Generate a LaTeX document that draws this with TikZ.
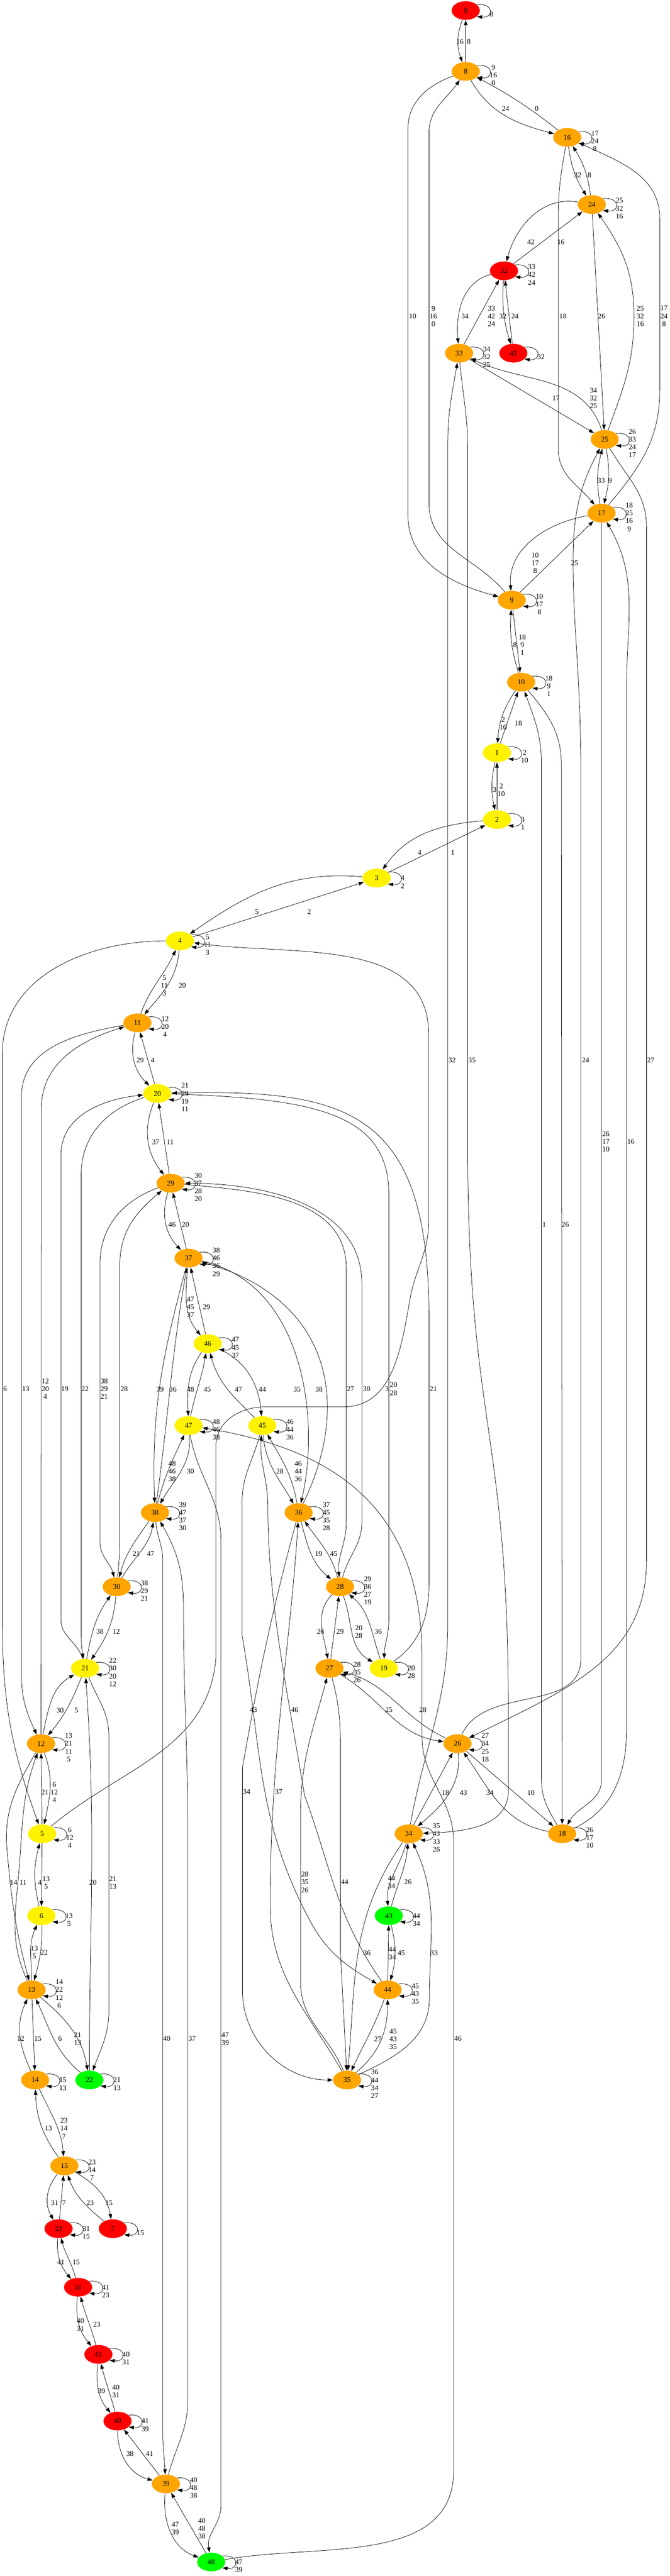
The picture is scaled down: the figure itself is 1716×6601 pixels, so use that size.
\documentclass[tikz,border=0pt]{standalone}
\usepackage{fontspec}
\setmainfont{Liberation Serif}
\usetikzlibrary{arrows.meta, shapes.geometric}
\definecolor{gvorange}{HTML}{FFA500}

% self loop on the right of a state, with its label
\newcommand{\sloop}[2]{%
  \draw[->] (#1.28) .. controls +(44,5) and +(44,-5) .. (#1.-28)
    node[lbl, anchor=west] at ([shift={(61,-10)}]#1.center) {#2};}

\begin{document}
\begin{tikzpicture}[
            x = 0.75pt, y = 0.75pt, % one unit is one pixel of the layout
            > = {Triangle[length=10pt, width=7pt]}, % arrow head style
            line width = 0.75pt % line style
        ]

        \tikzstyle{st}=[
            ellipse,
            minimum width = 54pt,
            minimum height = 36pt,
            inner sep = 0pt,
            font = \fontsize{14}{15}\selectfont
        ]
        \tikzstyle{redst}=[st, fill = red]
        \tikzstyle{orst}=[st, fill = gvorange]
        \tikzstyle{yelst}=[st, fill = yellow]
        \tikzstyle{grnst}=[st, fill = green]
        \tikzstyle{lbl}=[inner sep = 0pt, align = center, font = \fontsize{14}{15}\selectfont]

        \useasboundingbox (0,0) rectangle (1716,-6601);

        \node[redst] (s0) at (1193,-27) {0};
        \node[orst] (s8) at (1193,-183) {8};
        \node[orst] (s16) at (1453,-352) {16};
        \node[orst] (s24) at (1516,-524) {24};
        \node[redst] (s32) at (1291,-694) {32};
        \node[orst] (s33) at (1176,-905) {33};
        \node[redst] (s42) at (1315,-905) {42};
        \node[orst] (s25) at (1549,-1126) {25};
        \node[orst] (s17) at (1541,-1315) {17};
        \node[orst] (s9) at (1311,-1538) {9};
        \node[orst] (s10) at (1335,-1748) {10};
        \node[yelst] (s1) at (1273,-1929) {1};
        \node[yelst] (s2) at (1273,-2100) {2};
        \node[yelst] (s3) at (965,-2250) {3};
        \node[yelst] (s4) at (461,-2411) {4};
        \node[orst] (s11) at (352,-2621) {11};
        \node[yelst] (s20) at (403,-2802) {20};
        \node[orst] (s29) at (437,-3032) {29};
        \node[orst] (s37) at (483,-3224) {37};
        \node[yelst] (s46) at (532,-3443) {46};
        \node[yelst] (s47) at (483,-3653) {47};
        \node[yelst] (s45) at (672,-3653) {45};
        \node[orst] (s38) at (397,-3876) {38};
        \node[orst] (s36) at (765,-3876) {36};
        \node[orst] (s30) at (299,-4066) {30};
        \node[orst] (s28) at (871,-4066) {28};
        \node[yelst] (s21) at (218,-4275) {21};
        \node[orst] (s27) at (844,-4275) {27};
        \node[yelst] (s19) at (983,-4275) {19};
        \node[orst] (s12) at (105,-4468) {12};
        \node[orst] (s26) at (1172,-4468) {26};
        \node[yelst] (s5) at (108,-4699) {5};
        \node[orst] (s34) at (1047,-4699) {34};
        \node[orst] (s18) at (1440,-4699) {18};
        \node[yelst] (s6) at (106,-4909) {6};
        \node[grnst] (s43) at (996,-4909) {43};
        \node[orst] (s13) at (81,-5099) {13};
        \node[orst] (s44) at (993,-5099) {44};
        \node[orst] (s14) at (90,-5330) {14};
        \node[grnst] (s22) at (229,-5330) {22};
        \node[orst] (s35) at (889,-5330) {35};
        \node[orst] (s15) at (165,-5550) {15};
        \node[redst] (s23) at (150,-5711) {23};
        \node[redst] (s7) at (289,-5711) {7};
        \node[redst] (s31) at (200,-5861) {31};
        \node[redst] (s41) at (252,-6033) {41};
        \node[redst] (s40) at (301,-6204) {40};
        \node[orst] (s39) at (425,-6365) {39};
        \node[grnst] (s48) at (541,-6565) {48};

        \sloop{s0}{8}
        \sloop{s8}{9\\16\\0}
        \sloop{s16}{17\\24\\8}
        \sloop{s24}{25\\32\\16}
        \sloop{s32}{33\\42\\24}
        \sloop{s42}{32}
        \sloop{s33}{34\\32\\25}
        \sloop{s25}{26\\33\\24\\17}
        \sloop{s17}{18\\25\\16\\9}
        \sloop{s9}{10\\17\\8}
        \sloop{s10}{18\\9\\1}
        \sloop{s1}{2\\10}
        \sloop{s2}{3\\1}
        \sloop{s3}{4\\2}
        \sloop{s4}{5\\11\\3}
        \sloop{s11}{12\\20\\4}
        \sloop{s20}{21\\29\\19\\11}
        \sloop{s29}{30\\37\\28\\20}
        \sloop{s37}{38\\46\\36\\29}
        \sloop{s46}{47\\45\\37}
        \sloop{s47}{48\\46\\38}
        \sloop{s45}{46\\44\\36}
        \sloop{s38}{39\\47\\37\\30}
        \sloop{s36}{37\\45\\35\\28}
        \sloop{s30}{38\\29\\21}
        \sloop{s28}{29\\36\\27\\19}
        \sloop{s21}{22\\30\\20\\12}
        \sloop{s27}{28\\35\\26}
        \sloop{s19}{20\\28}
        \sloop{s12}{13\\21\\11\\5}
        \sloop{s26}{27\\34\\25\\18}
        \sloop{s5}{6\\12\\4}
        \sloop{s34}{35\\43\\33\\26}
        \sloop{s18}{26\\17\\10}
        \sloop{s6}{13\\5}
        \sloop{s43}{44\\34}
        \sloop{s13}{14\\22\\12\\6}
        \sloop{s44}{45\\43\\35}
        \sloop{s14}{15\\13}
        \sloop{s22}{21\\13}
        \sloop{s35}{36\\44\\34\\27}
        \sloop{s15}{23\\14\\7}
        \sloop{s23}{31\\15}
        \sloop{s7}{15}
        \sloop{s31}{41\\23}
        \sloop{s41}{40\\31}
        \sloop{s40}{41\\39}
        \sloop{s39}{40\\48\\38}
        \sloop{s48}{47\\39}

        % top part
        \draw[->] (s0) to[bend right=20] (s8) node[lbl] at (1178,-107) {16};
        \draw[->] (s8) -- (s0) node[lbl] at (1201,-107) {8};
        \draw[->] (s8) to[out=-60,in=165] (s16) node[lbl] at (1295,-278) {24};
        \draw[->] (s16) to[bend right=5] (s8) node[lbl] at (1375,-279) {0};
        \draw[->] (s16) to[bend right=12] (s24) node[lbl] at (1480,-449) {32};
        \draw[->] (s24) to[bend right=12] (s16) node[lbl] at (1510,-449) {8};
        \draw[->] (s24) to[out=170,in=75] (s32) node[lbl] at (1360,-620) {42};
        \draw[->] (s32) -- (s24) node[lbl] at (1437,-620) {16};
        \draw[->] (s32) to[out=195,in=95] (s33) node[lbl] at (1191,-810) {34};
        \draw[->] (s33) -- (s32) node[lbl] at (1259,-810) {33\\42\\24};
        \draw[->] (s32) to[bend right=10] (s42) node[lbl] at (1288,-810) {32};
        \draw[->] (s42) -- (s32) node[lbl] at (1319,-810) {24};
        \draw[->] (s33) -- (s25) node[lbl] at (1424,-1020) {17};
        \draw[->] (s25) to[out=108,in=-25] (s33) node[lbl] at (1520,-1020) {34\\32\\25};
        \draw[->] (s24) -- (s25) node[lbl] at (1541,-810) {26};
        \draw[->] (s25) to[out=70,in=-90] (1624,-810) to[out=90,in=-55] (s24) node[lbl] at (1640,-810) {25\\32\\16};
        \draw[->] (s16) to[out=-100,in=90] (1430,-560) -- (1430,-1150) to[out=-90,in=130] (s17) node[lbl] at (1442,-810) {18};
        \draw[->] (s17) to[out=50,in=-90] (1690,-1000) -- (1690,-560) to[out=90,in=-25] (s16) node[lbl] at (1701,-810) {17\\24\\8};
        \draw[->] (s25) to[bend left=12] (s17) node[lbl] at (1563,-1231) {9};
        \draw[->] (s17) to[bend left=12] (s25) node[lbl] at (1540,-1231) {33};
        \draw[->] (s17) to[out=190,in=95] (s9) node[lbl] at (1371,-1443) {10\\17\\8};
        \draw[->] (s9) -- (s17) node[lbl] at (1472,-1443) {25};
        \draw[->] (s8) to[out=200,in=90] (1045,-330) -- (1045,-1320) to[out=-90,in=165] (s9) node[lbl] at (1057,-810) {10};
        \draw[->] (s9) to[out=130,in=-90] (1099,-1290) -- (1099,-340) to[out=90,in=-125] (s8) node[lbl] at (1110,-810) {9\\16\\0};
        \draw[->] (s9) -- (s10) node[lbl] at (1338,-1653) {18\\9\\1};
        \draw[->] (s10) to[bend left=10] (s9) node[lbl] at (1319,-1653) {8};
        \draw[->] (s10) to[bend right=15] (s1) node[lbl] at (1289,-1854) {2\\10};
        \draw[->] (s1) -- (s10) node[lbl] at (1328,-1854) {18};
        \draw[->] (s1) to[bend right=12] (s2) node[lbl] at (1267,-2024) {3};
        \draw[->] (s2) -- (s1) node[lbl] at (1284,-2024) {2\\10};
        \draw[->] (s2) to[out=185,in=55] (s3) node[lbl] at (1075,-2185) {4};
        \draw[->] (s3) -- (s2) node[lbl] at (1160,-2185) {1};
        \draw[->] (s3) to[out=175,in=35] (s4) node[lbl] at (658,-2336) {5};
        \draw[->] (s4) -- (s3) node[lbl] at (792,-2336) {2};
        \draw[->] (s4) to[out=-95,in=50] (s11) node[lbl] at (467,-2525) {20};
        \draw[->] (s11) to[out=70,in=-115] (s4) node[lbl] at (421,-2525) {5\\11\\3};
        \draw[->] (s11) to[bend right=30] (s20) node[lbl] at (359,-2717) {29};
        \draw[->] (s20) -- (s11) node[lbl] at (391,-2717) {4};
        \draw[->] (s20) to[bend right=30] (s29) node[lbl] at (399,-2927) {37};
        \draw[->] (s29) -- (s20) node[lbl] at (436,-2927) {11};
        \draw[->] (s29) to[bend right=30] (s37) node[lbl] at (441,-3138) {46};
        \draw[->] (s37) -- (s29) node[lbl] at (475,-3138) {20};

        % middle part
        \draw[->] (s37) to[out=-105,in=92] (s38) node[lbl] at (410,-3560) {39};
        \draw[->] (s38) to[out=82,in=-100] (s37) node[lbl] at (443,-3560) {36};
        \draw[->] (s37) to[out=-95,in=130] (s46) node[lbl] at (488,-3349) {47\\45\\37};
        \draw[->] (s46) -- (s37) node[lbl] at (529,-3349) {29};
        \draw[->] (s37) .. controls (780,-3290) and (820,-3640) .. (s36) node[lbl] at (761,-3560) {35};
        \draw[->] (s36) .. controls (900,-3600) and (850,-3330) .. (s37) node[lbl] at (817,-3560) {38};
        \draw[->] (s46) to[out=-125,in=92] (s47) node[lbl] at (488,-3560) {48};
        \draw[->] (s47) to[out=78,in=-100] (s46) node[lbl] at (531,-3560) {45};
        \draw[->] (s46) to[out=-25,in=95] (s45) node[lbl] at (672,-3560) {44};
        \draw[->] (s45) to[out=135,in=-75] (s46) node[lbl] at (611,-3560) {47};
        \draw[->] (s47) to[out=-85,in=60] (s38) node[lbl] at (488,-3770) {30};
        \draw[->] (s38) to[out=75,in=-115] (s47) node[lbl] at (441,-3770) {48\\46\\38};
        \draw[->] (s45) to[out=-85,in=120] (s36) node[lbl] at (717,-3770) {28};
        \draw[->] (s36) to[out=100,in=-60] (s45) node[lbl] at (764,-3770) {46\\44\\36};
        \draw[->] (s38) to[out=-125,in=75] (s30) node[lbl] at (349,-3981) {21};
        \draw[->] (s30) to[out=60,in=-100] (s38) node[lbl] at (386,-3981) {47};
        \draw[->] (s36) to[out=-75,in=140] (s28) node[lbl] at (816,-3981) {19};
        \draw[->] (s28) to[out=105,in=-55] (s36) node[lbl] at (855,-3981) {45};
        \draw[->] (s30) to[out=-95,in=55] (s21) node[lbl] at (298,-4181) {12};
        \draw[->] (s21) to[out=80,in=-125] (s30) node[lbl] at (256,-4181) {38};
        \draw[->] (s28) to[out=-135,in=100] (s27) node[lbl] at (821,-4181) {26};
        \draw[->] (s27) -- (s28) node[lbl] at (871,-4181) {29};
        \draw[->] (s28) to[out=-70,in=150] (s19) node[lbl] at (919,-4181) {20\\28};
        \draw[->] (s19) to[out=110,in=-40] (s28) node[lbl] at (969,-4181) {36};
        \draw[->] (s27) to[out=-30,in=172] (s26) node[lbl] at (996,-4381) {25};
        \draw[->] (s26) to[out=155,in=-15] (s27) node[lbl] at (1083,-4381) {28};
        \draw[->] (s20) .. controls (800,-2815) and (996,-2850) .. (996,-3060) -- (996,-4150) to[out=-90,in=88] (s19) node[lbl] at (1008,-3559) {20\\28};
        \draw[->] (s19) to[out=35,in=-90] (1099,-4050) -- (1099,-3380) .. controls (1099,-2850) and (900,-2790) .. (s20) node[lbl] at (1110,-3559) {21};
        \draw[->] (s5) to[out=40,in=-95] (553,-4250) -- (553,-3700) to[out=85,in=180] (680,-3605) -- (880,-3605) to[out=0,in=-100] (1050,-3330) to[out=80,in=-90] (1098,-3130) -- (1098,-2650) to[out=90,in=-8] (s4) node[lbl] at (991,-3559) {3};
        \draw[->] (s4) to[out=180,in=90] (6,-2700) -- (6,-4150) to[out=-90,in=110] (s5) node[lbl] at (13,-3559) {6};

        % long channels on the left
        \draw[->] (s11) to[out=190,in=90] (55,-2810) -- (55,-4290) to[out=-90,in=115] (s12) node[lbl] at (66,-3559) {13};
        \draw[->] (s12) -- (106,-2840) to[out=90,in=197] (s11) node[lbl] at (116,-3559) {12\\20\\4};
        \draw[->] (s21) to[out=105,in=-90] (156,-4150) -- (156,-2960) to[out=90,in=186] (s20) node[lbl] at (166,-3559) {19};
        \draw[->] (s20) to[out=197,in=90] (208,-3010) -- (208,-4180) to[out=-90,in=100] (s21) node[lbl] at (218,-3559) {22};
        \draw[->] (s29) to[out=200,in=90] (256,-3240) -- (256,-3950) to[out=-90,in=105] (s30) node[lbl] at (267,-3559) {38\\29\\21};
        \draw[->] (s30) to[out=85,in=-90] (307,-3950) -- (307,-3240) to[out=90,in=-140] (s29) node[lbl] at (318,-3559) {28};
        \draw[->] (s29) to[out=-5,in=90] (887,-3250) -- (887,-3900) to[out=-90,in=95] (s28) node[lbl] at (898,-3559) {27};
        \draw[->] (s28) to[out=75,in=-90] (927,-3900) -- (927,-3290) to[out=90,in=0] (s29) node[lbl] at (939,-3559) {30};

        % long channels to the bottom
        \draw[->] (s47) to[out=-80,in=90] (566,-3950) -- (566,-6420) to[out=-90,in=100] (s48) node[lbl] at (577,-5224) {47\\39};
        \draw[->] (s48) to[out=10,in=-90] (1162,-6330) -- (1162,-4720) to[out=90,in=-90] (1081,-4450) -- (1081,-4250) .. controls (1081,-3900) and (900,-3720) .. (s47) node[lbl] at (1173,-5224) {46};
        \draw[->] (s38) to[out=-85,in=90] (417,-4000) -- (417,-6250) -- (s39) node[lbl] at (427,-5224) {40};
        \draw[->] (s39) to[out=75,in=-90] (481,-6150) -- (481,-4700) to[out=90,in=-90] (470,-4120) to[out=90,in=-60] (s38) node[lbl] at (492,-5224) {37};
        \draw[->] (s45) to[out=-105,in=90] (620,-3850) -- (620,-4190) to[out=-80,in=118] (793,-4920) to[out=-62,in=150] (s44) node[lbl] at (649,-4381) {43};
        \draw[->] (s36) to[out=-105,in=80] (621,-4530) -- (621,-5100) to[out=-90,in=180] (s35) node[lbl] at (632,-4592) {34};
        \draw[->] (s35) to[out=120,in=-90] (692,-4880) .. controls (692,-4500) and (745,-4200) .. (s36) node[lbl] at (714,-4592) {37};
        \draw[->] (s35) to[out=112,in=-90] (770,-5080) -- (770,-4650) to[out=90,in=-105] (s27) node[lbl] at (781,-4823) {28\\35\\26};
        \draw[->] (s27) to[out=-75,in=90] (872,-4480) -- (872,-5000) -- (s35) node[lbl] at (883,-4823) {44};
        \draw[->] (s44) to[out=125,in=-70] (780,-4600) .. controls (730,-4300) and (686,-4100) .. (686,-3850) to[out=92,in=-95] (s45) node[lbl] at (755,-4381) {46};
        \draw[->] (s34) to[out=-125,in=85] (s35) node[lbl] at (940,-5005) {36};
        \draw[->] (s34) to[out=-105,in=95] (s43) node[lbl] at (1003,-4823) {44\\34};
        \draw[->] (s43) to[out=75,in=-95] (s34) node[lbl] at (1045,-4823) {26};
        \draw[->] (s35) to[out=25,in=-90] (1100,-5120) to[out=90,in=-65] (s34) node[lbl] at (1112,-5005) {33};
        \draw[->] (s44) to[out=-110,in=65] (s35) node[lbl] at (968,-5225) {27};
        \draw[->] (s35) to[out=40,in=-90] (s44) node[lbl] at (1007,-5225) {45\\43\\35};
        \draw[->] (s43) to[bend left=15] (s44) node[lbl] at (1028,-5005) {45};
        \draw[->] (s44) -- (s43) node[lbl] at (1005,-5005) {44\\34};
        \draw[->] (s34) -- (s26) node[lbl] at (1141,-4594) {18};
        \draw[->] (s26) to[out=-85,in=40] (s34) node[lbl] at (1187,-4594) {43};
        \draw[->] (s26) -- (s18) node[lbl] at (1360,-4594) {10};
        \draw[->] (s18) to[out=170,in=-55] (s26) node[lbl] at (1255,-4594) {34};

        % long channels on the right
        \draw[->] (s33) to[out=-85,in=90] (1198,-1150) -- (1198,-2930) .. controls (1198,-3650) and (1302,-3660) .. (1302,-4380) -- (1302,-4590) to[out=-90,in=2] (s34) node[lbl] at (1209,-2717) {35};
        \draw[->] (s34) to[out=80,in=-90] (1147,-4160) -- (1147,-1140) to[out=90,in=-100] (s33) node[lbl] at (1158,-2717) {32};
        \draw[->] (s25) to[out=-60,in=90] (1656,-1350) -- (1656,-4000) .. controls (1656,-4250) and (1450,-4330) .. (s26) node[lbl] at (1667,-2717) {27};
        \draw[->] (s26) to[out=65,in=-90] (1488,-4250) -- (1488,-2000) .. controls (1488,-1720) and (1468,-1620) .. (1468,-1440) to[out=90,in=-118] (s25) node[lbl] at (1500,-2717) {24};
        \draw[->] (s17) -- (1541,-4560) to[out=-90,in=60] (s18) node[lbl] at (1552,-2925) {26\\17\\10};
        \draw[->] (s18) to[out=25,in=-90] (1605,-4430) -- (1605,-1760) to[out=90,in=-60] (s17) node[lbl] at (1616,-2925) {16};
        \draw[->] (s10) to[out=-50,in=90] (1438,-1960) -- (s18) node[lbl] at (1448,-3138) {26};
        \draw[->] (s18) to[out=120,in=-90] (1387,-4560) -- (1387,-1960) to[out=90,in=-70] (s10) node[lbl] at (1394,-3138) {1};

        % bottom left part
        \draw[->] (s21) to[out=-112,in=50] (s12) node[lbl] at (196,-4383) {5};
        \draw[->] (s12) to[out=78,in=-150] (s21) node[lbl] at (154,-4383) {30};
        \draw[->] (s12) to[out=-70,in=78] (s5) node[lbl] at (139,-4593) {6\\12\\4};
        \draw[->] (s5) -- (s12) node[lbl] at (115,-4593) {21};
        \draw[->] (s5) -- (s6) node[lbl] at (118,-4824) {13\\5};
        \draw[->] (s6) to[bend left=14] (s5) node[lbl] at (102,-4824) {4};
        \draw[->] (s6) to[out=-88,in=75] (s13) node[lbl] at (113,-5003) {22};
        \draw[->] (s13) to[out=90,in=-115] (s6) node[lbl] at (88,-5003) {13\\5};
        \draw[->] (s12) to[out=-120,in=95] (18,-4740) to[out=-85,in=105] (s13) node[lbl] at (35,-4824) {14};
        \draw[->] (s13) to[out=115,in=-95] (48,-4800) to[out=85,in=-110] (s12) node[lbl] at (59,-4824) {11};
        \draw[->] (s13) -- (s14) node[lbl] at (97,-5224) {15};
        \draw[->] (s14) to[out=115,in=-115] (s13) node[lbl] at (53,-5224) {12};
        \draw[->] (s13) to[out=-40,in=100] (s22) node[lbl] at (199,-5224) {21\\13};
        \draw[->] (s22) to[out=140,in=-65] (s13) node[lbl] at (154,-5224) {6};
        \draw[->] (s21) to[out=-68,in=90] (279,-4450) -- (279,-5150) to[out=-90,in=70] (s22) node[lbl] at (289,-4824) {21\\13};
        \draw[->] (s22) to[out=90,in=-86] (s21) node[lbl] at (238,-4824) {20};
        \draw[->] (s14) to[out=-65,in=95] (s15) node[lbl] at (164,-5454) {23\\14\\7};
        \draw[->] (s15) to[out=125,in=-88] (s14) node[lbl] at (124,-5454) {13};
        \draw[->] (s15) to[bend right=35] (s23) node[lbl] at (140,-5645) {31};
        \draw[->] (s23) -- (s15) node[lbl] at (164,-5645) {7};
        \draw[->] (s15) to[out=-30,in=100] (s7) node[lbl] at (279,-5645) {15};
        \draw[->] (s7) to[out=140,in=-70] (s15) node[lbl] at (231,-5645) {23};
        \draw[->] (s23) to[out=-95,in=130] (s31) node[lbl] at (156,-5797) {41};
        \draw[->] (s31) to[out=105,in=-75] (s23) node[lbl] at (195,-5797) {15};
        \draw[->] (s31) to[out=-95,in=130] (s41) node[lbl] at (206,-5957) {40\\31};
        \draw[->] (s41) to[out=105,in=-75] (s31) node[lbl] at (248,-5957) {23};
        \draw[->] (s41) to[out=-95,in=130] (s40) node[lbl] at (260,-6127) {39};
        \draw[->] (s40) to[out=105,in=-75] (s41) node[lbl] at (297,-6127) {40\\31};
        \draw[->] (s40) to[out=-90,in=165] (s39) node[lbl] at (333,-6288) {38};
        \draw[->] (s39) -- (s40) node[lbl] at (383,-6288) {41};
        \draw[->] (s39) to[out=-95,in=160] (s48) node[lbl] at (449,-6479) {47\\39};
        \draw[->] (s48) -- (s39) node[lbl] at (517,-6479) {40\\48\\38};
    \end{tikzpicture}
\end{document}
